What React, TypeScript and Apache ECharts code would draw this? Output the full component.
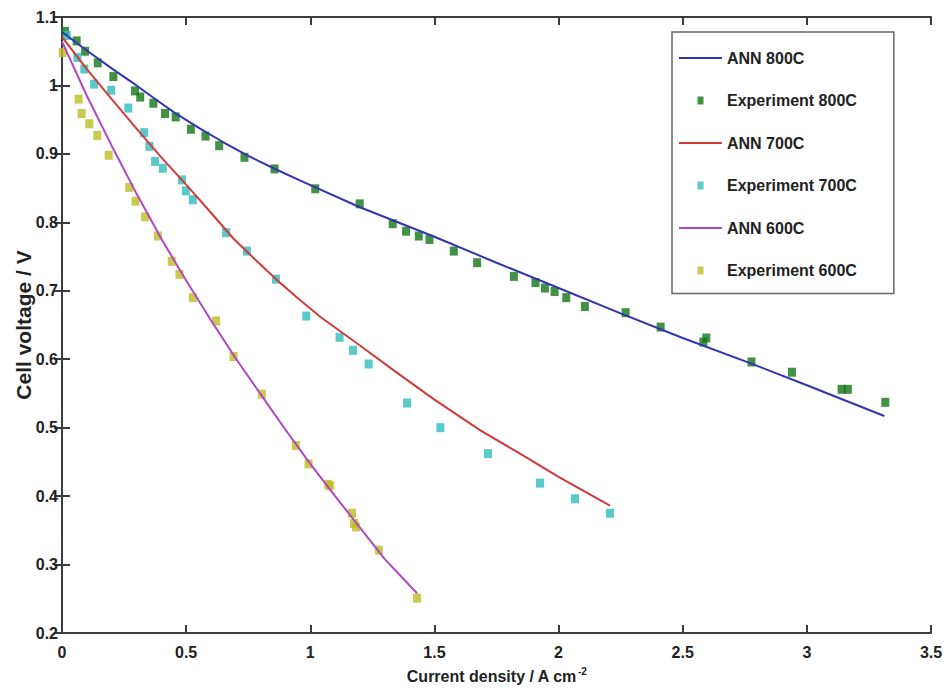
import React, { useEffect, useRef } from "react";
import * as echarts from "echarts";

// ---- Data ----
const ann800X = [0, 0.1, 0.2, 0.3, 0.368, 0.45, 0.556, 0.65, 0.75, 0.852, 0.96, 1.2, 1.5, 1.75, 2.0, 2.25, 2.5, 2.774, 3.0, 3.312];
const ann800Y = [1.078, 1.051, 1.025, 1.0, 0.982, 0.961, 0.937, 0.917, 0.897, 0.879, 0.861, 0.822, 0.779, 0.741, 0.704, 0.667, 0.631, 0.594, 0.562, 0.517];

const exp800X = [0.012, 0.059, 0.093, 0.144, 0.207, 0.294, 0.315, 0.368, 0.415, 0.458, 0.519, 0.578, 0.633, 0.735, 0.856, 1.020, 1.199, 1.332, 1.386, 1.437, 1.480, 1.578, 1.672, 1.820, 1.907, 1.945, 1.984, 2.031, 2.106, 2.270, 2.411, 2.583, 2.595, 2.777, 2.940, 3.140, 3.165, 3.316];
const exp800Y = [1.079, 1.065, 1.050, 1.033, 1.013, 0.992, 0.983, 0.974, 0.959, 0.954, 0.936, 0.926, 0.912, 0.895, 0.878, 0.849, 0.827, 0.798, 0.787, 0.780, 0.775, 0.758, 0.741, 0.721, 0.712, 0.704, 0.699, 0.690, 0.677, 0.668, 0.647, 0.625, 0.631, 0.596, 0.581, 0.556, 0.556, 0.537];

const ann700X = [0, 0.1, 0.2, 0.3, 0.4, 0.5, 0.6, 0.691, 0.78, 0.862, 0.95, 1.04, 1.2, 1.35, 1.5, 1.685, 1.85, 2.0, 2.207];
const ann700Y = [1.071, 1.024, 0.980, 0.937, 0.895, 0.855, 0.814, 0.776, 0.745, 0.717, 0.689, 0.662, 0.620, 0.580, 0.541, 0.496, 0.461, 0.428, 0.386];

const exp700X = [0.019, 0.062, 0.090, 0.129, 0.198, 0.267, 0.331, 0.352, 0.375, 0.406, 0.483, 0.499, 0.527, 0.661, 0.745, 0.862, 0.984, 1.118, 1.172, 1.235, 1.390, 1.524, 1.716, 1.925, 2.066, 2.207];
const exp700Y = [1.073, 1.041, 1.024, 1.002, 0.993, 0.967, 0.931, 0.911, 0.889, 0.879, 0.862, 0.846, 0.833, 0.785, 0.758, 0.717, 0.663, 0.632, 0.613, 0.593, 0.536, 0.500, 0.462, 0.419, 0.396, 0.375];

const ann600X = [0, 0.1, 0.2, 0.3, 0.4, 0.5, 0.6, 0.7, 0.8, 0.9, 1.0, 1.1, 1.2, 1.3, 1.43];
const ann600Y = [1.064, 0.985, 0.912, 0.842, 0.776, 0.715, 0.657, 0.601, 0.549, 0.497, 0.447, 0.400, 0.354, 0.308, 0.258];

const exp600X = [0.003, 0.067, 0.079, 0.110, 0.142, 0.188, 0.271, 0.296, 0.335, 0.386, 0.442, 0.473, 0.527, 0.621, 0.691, 0.805, 0.942, 0.993, 1.072, 1.080, 1.168, 1.176, 1.184, 1.276, 1.430];
const exp600Y = [1.048, 0.980, 0.959, 0.944, 0.927, 0.898, 0.851, 0.831, 0.808, 0.780, 0.743, 0.724, 0.690, 0.656, 0.604, 0.549, 0.474, 0.447, 0.417, 0.415, 0.375, 0.360, 0.355, 0.321, 0.251];

const seriesNames = ["ANN 800C", "Experiment 800C", "ANN 700C", "Experiment 700C", "ANN 600C", "Experiment 600C"];

const pair = (xs: number[], ys: number[]) => xs.map((x, i) => [x, ys[i]]);

const FONT = "'Liberation Sans', Arial, Helvetica, sans-serif";
const AXIS_COLOR = "#3c3c3c";
const TEXT_COLOR = "#222";

const fmt = (v: number) => String(+v.toFixed(1));

const LINE_ICON = "path://M0,3H43V5H0Z";
const MARK_ICON = "path://M0,0H6V8H0Z";

export default function App() {
  const ref = useRef<HTMLDivElement>(null);

  useEffect(() => {
    if (!ref.current) return;
    const chart = echarts.init(ref.current, null, { renderer: "svg" });

    const lineSeries = (name: string, data: number[][], color: string) => ({
      name,
      type: "line",
      data,
      showSymbol: false,
      symbol: "none",
      smooth: false,
      lineStyle: { color, width: 2 },
      itemStyle: { color },
      z: 3,
    });
    const scatterSeries = (name: string, data: number[][], color: string) => ({
      name,
      type: "scatter",
      data,
      symbol: "rect",
      symbolSize: [8, 9],
      itemStyle: { color },
      z: 2,
    });

    const baseAxis = {
      type: "value",
      axisLine: { show: true, lineStyle: { color: AXIS_COLOR, width: 2 } },
      axisTick: { show: true, inside: true, length: 8, lineStyle: { color: AXIS_COLOR, width: 2 } },
      splitLine: { show: false },
    };

    const labelStyle = {
      fontFamily: FONT,
      fontWeight: "bold",
      fontSize: 16,
      color: TEXT_COLOR,
    };

    chart.setOption({
      animation: false,
      backgroundColor: "#ffffff",
      grid: { left: 62, right: 14, top: 17, bottom: 60, containLabel: false, outerBoundsMode: "none" },
      xAxis: [
        {
          ...baseAxis,
          position: "bottom",
          min: 0,
          max: 3.5,
          interval: 0.5,
          name: "Current density / A cm{sup|-2}",
          nameLocation: "middle",
          nameGap: 33,
          nameMoveOverlap: false,
          nameTextStyle: {
            ...labelStyle,
            rich: {
              sup: { fontFamily: FONT, fontWeight: "bold", fontSize: 10, color: TEXT_COLOR, padding: [0, 0, 10, 1] },
            },
          },
          axisLabel: { ...labelStyle, formatter: fmt, margin: 11 },
        },
        {
          ...baseAxis,
          position: "top",
          min: 0,
          max: 3.5,
          interval: 0.5,
          axisLabel: { show: false },
        },
      ],
      yAxis: [
        {
          ...baseAxis,
          position: "left",
          min: 0.2,
          max: 1.1,
          interval: 0.1,
          name: "Cell voltage / V",
          nameLocation: "middle",
          nameGap: 28,
          nameMoveOverlap: false,
          nameTextStyle: { ...labelStyle, fontSize: 21 },
          axisLabel: { ...labelStyle, formatter: fmt, margin: 4 },
        },
        {
          ...baseAxis,
          position: "right",
          min: 0.2,
          max: 1.1,
          interval: 0.1,
          axisLabel: { show: false },
        },
      ],
      legend: {
        data: seriesNames.map((name, i) => ({ name, icon: i % 2 === 0 ? LINE_ICON : MARK_ICON })),
        orient: "vertical",
        left: 672,
        top: 32,
        padding: [18, 37, 15, 7],
        itemWidth: 43,
        itemHeight: 8,
        itemGap: 26.5,
        symbolKeepAspect: true,
        backgroundColor: "#ffffff",
        borderColor: "#666",
        borderWidth: 1.5,
        textStyle: { ...labelStyle },
      },
      series: [
        lineSeries(seriesNames[0], pair(ann800X, ann800Y), "#3434b0"),
        scatterSeries(seriesNames[1], pair(exp800X, exp800Y), "#137515"),
        lineSeries(seriesNames[2], pair(ann700X, ann700Y), "#d23a3a"),
        scatterSeries(seriesNames[3], pair(exp700X, exp700Y), "#30bcbc"),
        lineSeries(seriesNames[4], pair(ann600X, ann600Y), "#b048c0"),
        scatterSeries(seriesNames[5], pair(exp600X, exp600Y), "#bdbd22"),
      ],
    });

    return () => chart.dispose();
  }, []);

  return (
    <div
      ref={ref}
      style={{ position: "fixed", left: 0, top: 0, width: 945, height: 693, background: "#fff" }}
    />
  );
}
